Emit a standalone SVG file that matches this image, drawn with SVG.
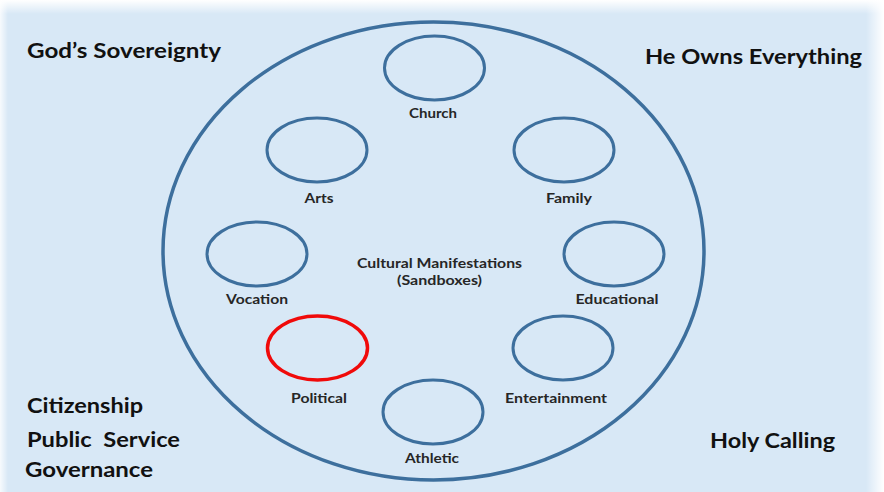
<svg xmlns="http://www.w3.org/2000/svg" width="884" height="492" viewBox="0 0 884 492">
  <defs>
    <linearGradient id="fadeTop" x1="0" y1="0" x2="0" y2="1">
      <stop offset="0" stop-color="#ffffff" stop-opacity="1"/>
      <stop offset="1" stop-color="#ffffff" stop-opacity="0"/>
    </linearGradient>
    <linearGradient id="fadeRight" x1="0" y1="0" x2="1" y2="0">
      <stop offset="0" stop-color="#ffffff" stop-opacity="0"/>
      <stop offset="1" stop-color="#ffffff" stop-opacity="1"/>
    </linearGradient>
    <linearGradient id="fadeLeft" x1="1" y1="0" x2="0" y2="0">
      <stop offset="0" stop-color="#ffffff" stop-opacity="0"/>
      <stop offset="1" stop-color="#ffffff" stop-opacity="0.8"/>
    </linearGradient>
  </defs>
  <style>
    .ring { fill: none; stroke: #3d6f9d; stroke-width: 3.5; }
    .sand { fill: none; stroke: #3d6f9d; stroke-width: 3; }
    .hot { fill: none; stroke: #f00a0a; stroke-width: 3.5; }
    .big { font-family: Lato, "Open Sans", "Liberation Sans", sans-serif; font-weight: bold; font-size: 21px; fill: #111111; }
    .small { font-family: Lato, "Open Sans", "Liberation Sans", sans-serif; font-weight: bold; font-size: 14px; fill: #262626; text-anchor: middle; }
  </style>

  <g id="background">
    <rect x="0" y="0" width="884" height="492" fill="#d8e8f6"/>
    <rect x="0" y="0" width="884" height="14" fill="url(#fadeTop)"/>
    <rect x="866" y="0" width="18" height="492" fill="url(#fadeRight)"/>
    <rect x="0" y="0" width="8" height="492" fill="url(#fadeLeft)"/>
  </g>

  <g id="corner-labels">
    <text class="big" x="27" y="58" textLength="194" lengthAdjust="spacingAndGlyphs">God’s Sovereignty</text>
    <text class="big" x="645" y="64" textLength="217" lengthAdjust="spacingAndGlyphs">He Owns Everything</text>
    <text class="big" x="27" y="413" textLength="116" lengthAdjust="spacingAndGlyphs">Citizenship</text>
    <text class="big" x="27" y="447" textLength="153" lengthAdjust="spacingAndGlyphs">Public&#160; Service</text>
    <text class="big" x="25" y="477" textLength="128" lengthAdjust="spacingAndGlyphs">Governance</text>
    <text class="big" x="710" y="448" textLength="125" lengthAdjust="spacingAndGlyphs">Holy Calling</text>
  </g>

  <g id="sovereignty-circle">
    <ellipse class="ring" cx="433.5" cy="251" rx="270.5" ry="229"/>
    <text class="small" x="439.5" y="268" textLength="165" lengthAdjust="spacingAndGlyphs">Cultural Manifestations</text>
    <text class="small" x="439.5" y="285" textLength="85" lengthAdjust="spacingAndGlyphs">(Sandboxes)</text>
  </g>

  <g id="church">
    <ellipse class="sand" cx="434.5" cy="68" rx="50" ry="32"/>
    <text class="small" x="433" y="118" textLength="48" lengthAdjust="spacingAndGlyphs">Church</text>
  </g>
  <g id="arts">
    <ellipse class="sand" cx="317" cy="150" rx="50" ry="32"/>
    <text class="small" x="319" y="203" textLength="29" lengthAdjust="spacingAndGlyphs">Arts</text>
  </g>
  <g id="family">
    <ellipse class="sand" cx="564" cy="150" rx="50" ry="32"/>
    <text class="small" x="569" y="203" textLength="46" lengthAdjust="spacingAndGlyphs">Family</text>
  </g>
  <g id="vocation">
    <ellipse class="sand" cx="257" cy="254" rx="50" ry="32"/>
    <text class="small" x="257" y="304" textLength="62" lengthAdjust="spacingAndGlyphs">Vocation</text>
  </g>
  <g id="educational">
    <ellipse class="sand" cx="614" cy="254" rx="50" ry="32"/>
    <text class="small" x="617" y="304" textLength="83" lengthAdjust="spacingAndGlyphs">Educational</text>
  </g>
  <g id="political">
    <ellipse class="hot" cx="317.5" cy="348" rx="50" ry="32"/>
    <text class="small" x="319" y="403" textLength="56" lengthAdjust="spacingAndGlyphs">Political</text>
  </g>
  <g id="entertainment">
    <ellipse class="sand" cx="563" cy="348" rx="50" ry="32"/>
    <text class="small" x="556" y="403" textLength="102" lengthAdjust="spacingAndGlyphs">Entertainment</text>
  </g>
  <g id="athletic">
    <ellipse class="sand" cx="433" cy="412" rx="50" ry="32"/>
    <text class="small" x="432" y="463" textLength="54" lengthAdjust="spacingAndGlyphs">Athletic</text>
  </g>

  <g id="connectors"></g>
</svg>
